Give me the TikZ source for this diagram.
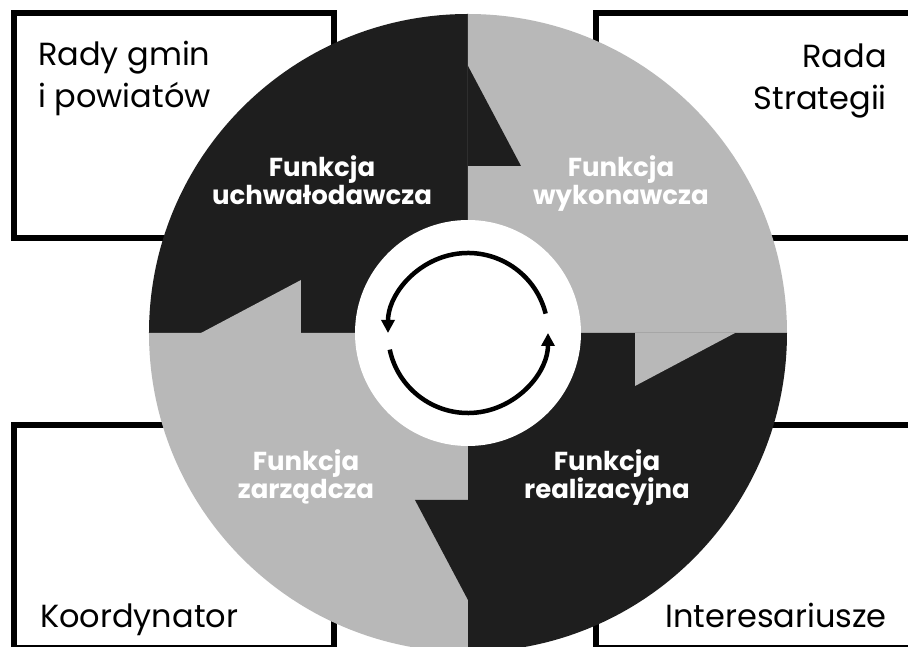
\documentclass[tikz,border=0pt]{standalone}
\usepackage{fontspec}
\setmainfont{Poppins}
\usetikzlibrary{arrows.meta,calc}
\definecolor{segciemny}{HTML}{1E1E1E}
\definecolor{segjasny}{HTML}{B8B8B8}
\tikzset{
  ramka/.style  ={rectangle, draw=black, line width=6pt, fill=white,
                  minimum width=320pt, minimum height=225pt, inner sep=0pt},
  podpis/.style ={inner sep=0pt, font=\fontsize{32}{42}\selectfont},
  funkcja/.style={inner sep=0pt, align=center, text=white,
                  font=\fontsize{26}{28}\selectfont\bfseries},
  obieg/.style  ={line width=4.5pt, -{Triangle[length=13pt,width=13pt]}}
}
\begin{document}
\begin{tikzpicture}[x=1pt, y=1pt]
\useasboundingbox (-468,-314) rectangle (440,333);

\node[ramka] (gminy) at (-293.5,207.5) {};
\node[ramka] (rada)  at (287.5,207.5) {};
\node[ramka, minimum height=223pt] (koord) at (-293.5,-203.5) {};
\node[ramka, minimum height=223pt] (inter) at (287.5,-203.5) {};

\node[podpis, anchor=base west, align=left]  (gminyTxt) at (-430,225) {Rady gmin\\i powiatów};
\node[podpis, anchor=base east, align=right] (radaTxt)  at (419,223)  {Rada\\Strategii};
\node[podpis, anchor=base west] (koordTxt) at (-428,-295) {Koordynator};
\node[podpis, anchor=base east] (interTxt) at (419,-295)  {Interesariusze};

\foreach \a/\k in {90/segciemny, 0/segjasny, 270/segciemny, 180/segjasny}
  \fill[\k] (0,0) -- (\a:319) arc[start angle=\a, end angle=\a+90, radius=319] -- cycle;
\foreach \a/\k in {90/segciemny, 0/segjasny, 270/segciemny, 180/segjasny}
  \fill[\k] (\a:167) -- ++(\a-90:53) -- (\a:267) -- cycle;

\node[circle, fill=white, minimum size=226pt, inner sep=0pt] (srodek) at (0,0) {};
\draw[obieg] (14:80) arc[start angle=14, end angle=180, radius=80];
\draw[obieg] (192:80) arc[start angle=192, end angle=360, radius=80];

\node[funkcja, anchor=base] (uchw) at (-146,128) {Funkcja\\uchwałodawcza};
\node[funkcja, anchor=base] (wyk)  at (153,128)  {Funkcja\\wykonawcza};
\node[funkcja, anchor=base] (zarz) at (-162,-166) {Funkcja\\zarządcza};
\node[funkcja, anchor=base] (real) at (139,-166) {Funkcja\\realizacyjna};
\end{tikzpicture}
\end{document}
